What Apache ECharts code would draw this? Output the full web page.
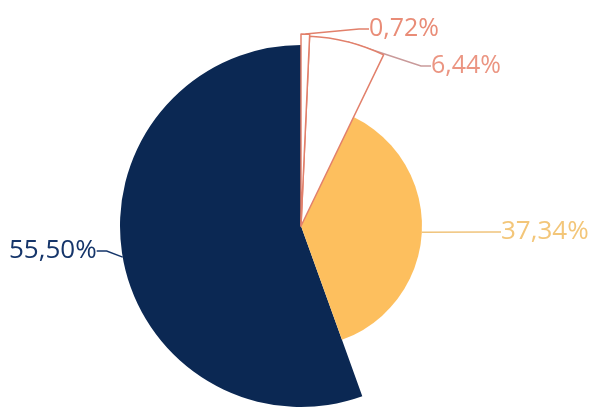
<!DOCTYPE html>
<html>
<head>
<meta charset="utf-8">
<script src="https://cdn.jsdelivr.net/npm/echarts@6/dist/echarts.min.js"></script>
<style>
  html, body { margin: 0; padding: 0; background: #fff; }
  #chart { width: 592px; height: 408px; }
</style>
</head>
<body>
<div id="chart"></div>
<script>
// 数据（顺时针，从12点开始）
const names = ['a', 'b', 'c', 'd']
const values = [0.72, 6.44, 37.34, 55.50]

// 样式
const fills = ['#ffffff', '#ffffff', '#fdbf5e', '#0b2853']
const borders = ['#e2806b', '#e2806b', null, null]
const textColors = ['#e98c77', '#eb9582', '#f3c679', '#15356a']
const lineColors = ['#e2806b', '#c99a9a', '#f0c47c', '#15356a']
const radii = [192, 190, 121, 181]
const labelPos = [[369, 29], [431, 66], [501, 232], [9, 251]]
const fontSizes = [25, 25, 26, 26]

const chart = echarts.init(document.getElementById('chart'))

const hidden = {
  itemStyle: { color: 'rgba(0,0,0,0)', borderWidth: 0 },
  label: { show: false },
  labelLine: { show: false }
}

function buildSeries(k) {
  return {
    type: 'pie',
    center: [301, 226],
    radius: [0, radii[k]],
    startAngle: 90,
    clockwise: true,
    silent: true,
    avoidLabelOverlap: false,
    animation: false,
    data: values.map((v, i) => {
      if (i !== k) return Object.assign({ name: names[i], value: v }, hidden)
      return {
        name: names[i],
        value: v,
        itemStyle: {
          color: fills[i],
          borderColor: borders[i] || fills[i],
          borderWidth: borders[i] ? 1.5 : 0
        },
        label: {
          show: true,
          position: 'outside',
          formatter: v.toFixed(2).replace('.', ',') + '%',
          color: textColors[i],
          fontFamily: 'Open Sans',
          fontSize: fontSizes[i]
        },
        labelLine: {
          show: true,
          length: 10,
          length2: 10,
          lineStyle: { color: lineColors[i], width: 1.5 }
        }
      }
    }),
    labelLayout: function(p) {
      if (p.dataIndex !== k) return {}
      return {
        x: labelPos[k][0],
        y: labelPos[k][1],
        align: 'left',
        verticalAlign: 'middle'
      }
    }
  }
}

// 先画大块，再画白色块
const order = [3, 2, 1, 0]
chart.setOption({
  backgroundColor: '#fff',
  series: order.map(buildSeries)
})
</script>
</body>
</html>
